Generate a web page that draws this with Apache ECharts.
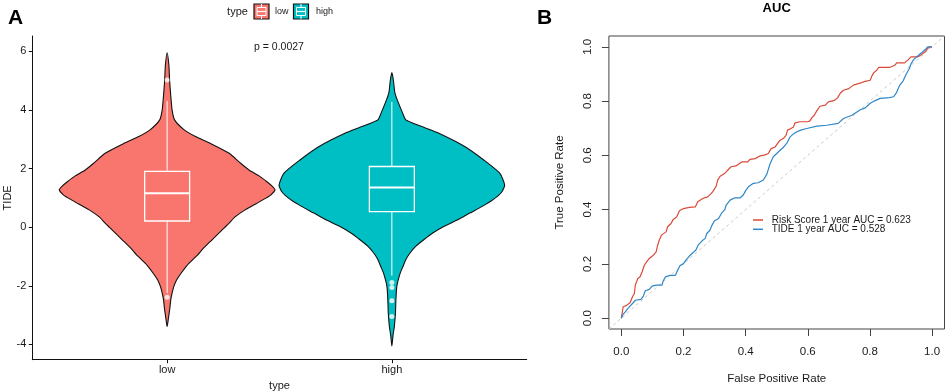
<!DOCTYPE html>
<html><head><meta charset="utf-8">
<script src="https://cdn.jsdelivr.net/npm/echarts@6/dist/echarts.min.js"></script>
<style>html,body{margin:0;padding:0;background:#fff}#c{width:948px;height:391px}</style>
</head><body><div id="c"></div>
<script>
// ---------- Panel A data ----------
const categories = ['low', 'high'];
const violinColors = ['#F8766D', '#00BFC4'];
const yTicksA = [-4, -2, 0, 2, 4, 6];
// violin density profile: TIDE value and half-width (category units)
const lowProfileY = [5.95,5.5,5.0,4.5,4.0,3.66,3.32,3.1,2.86,2.52,2.2,1.95,1.75,1.55,1.4,1.27,1.1,0.99,0.8,0.59,0.35,0.14,-0.1,-0.43,-0.7,-1.0,-1.3,-1.57,-1.8,-2.02,-2.25,-2.48,-2.7,-2.93,-3.15,-3.39];
const lowProfileW = [0,0.008,0.011,0.016,0.022,0.033,0.076,0.124,0.191,0.276,0.324,0.364,0.409,0.444,0.467,0.48,0.462,0.44,0.396,0.347,0.302,0.276,0.244,0.2,0.164,0.129,0.089,0.062,0.042,0.03,0.022,0.016,0.013,0.009,0.005,0];
const highProfileY = [5.27,5.0,4.6,4.34,3.89,3.66,3.43,3.2,2.75,2.29,1.84,1.44,1.2,0.93,0.7,0.48,0.25,0.02,-0.2,-0.43,-0.65,-0.89,-1.11,-1.35,-1.57,-2.02,-2.48,-2.93,-3.39,-3.7,-4.05];
const highProfileW = [0,0.007,0.013,0.024,0.048,0.062,0.133,0.209,0.324,0.409,0.48,0.502,0.489,0.449,0.4,0.347,0.293,0.231,0.182,0.142,0.107,0.08,0.062,0.049,0.037,0.022,0.018,0.016,0.011,0.005,0];
// box statistics: lower whisker, Q1, median, Q3, upper whisker
const lowBox = [-2.25, 0.21, 1.16, 1.90, 4.30];
const highBox = [-1.65, 0.53, 1.35, 2.07, 4.27];
const lowOutliers = [5.02, -2.39];
const highOutliers = [-1.89, -2.06, -2.51, -3.05];
const pValueText = 'p = 0.0027';

// ---------- Panel B data ----------
const rocTicks = [0, 0.2, 0.4, 0.6, 0.8, 1.0];
const rocNames = ['Risk Score 1 year AUC = 0.623', 'TIDE 1 year AUC = 0.528'];
const rocColors = ['#DA4A38', '#2F87C8'];
// [false positive rate, true positive rate]
const riskScoreROC = [[0,0],[0.004,0],[0.006,0.042],[0.017,0.047],[0.028,0.057],[0.036,0.079],[0.042,0.091],[0.045,0.122],[0.053,0.146],[0.060,0.152],[0.067,0.171],[0.074,0.195],[0.082,0.208],[0.090,0.220],[0.103,0.232],[0.112,0.244],[0.117,0.269],[0.122,0.287],[0.129,0.306],[0.144,0.318],[0.149,0.337],[0.160,0.349],[0.167,0.364],[0.178,0.373],[0.187,0.396],[0.200,0.404],[0.219,0.408],[0.238,0.410],[0.246,0.429],[0.262,0.441],[0.278,0.447],[0.289,0.459],[0.296,0.469],[0.305,0.486],[0.310,0.509],[0.318,0.523],[0.332,0.533],[0.342,0.545],[0.353,0.558],[0.369,0.561],[0.380,0.570],[0.388,0.576],[0.407,0.576],[0.414,0.585],[0.431,0.588],[0.444,0.597],[0.460,0.601],[0.473,0.607],[0.482,0.625],[0.495,0.631],[0.503,0.644],[0.511,0.656],[0.521,0.662],[0.530,0.674],[0.535,0.693],[0.546,0.699],[0.554,0.705],[0.559,0.720],[0.575,0.724],[0.600,0.724],[0.607,0.727],[0.614,0.740],[0.621,0.748],[0.629,0.764],[0.639,0.781],[0.657,0.785],[0.666,0.797],[0.686,0.803],[0.696,0.812],[0.705,0.830],[0.715,0.840],[0.732,0.846],[0.747,0.859],[0.771,0.867],[0.785,0.873],[0.801,0.877],[0.806,0.892],[0.812,0.904],[0.822,0.914],[0.828,0.924],[0.863,0.924],[0.880,0.932],[0.886,0.941],[0.911,0.941],[0.922,0.951],[0.932,0.963],[0.954,0.963],[0.965,0.971],[0.979,0.983],[0.986,0.994],[0.994,1.0],[1.0,1.0]];
const tideROC = [[0,0],[0.006,0.015],[0.013,0.023],[0.020,0.034],[0.028,0.044],[0.036,0.054],[0.045,0.066],[0.063,0.069],[0.071,0.081],[0.077,0.101],[0.090,0.106],[0.099,0.118],[0.112,0.122],[0.131,0.122],[0.135,0.138],[0.142,0.152],[0.157,0.158],[0.174,0.158],[0.180,0.174],[0.189,0.194],[0.200,0.201],[0.208,0.214],[0.219,0.229],[0.232,0.243],[0.240,0.251],[0.247,0.269],[0.260,0.285],[0.270,0.294],[0.275,0.312],[0.285,0.324],[0.292,0.343],[0.300,0.359],[0.313,0.367],[0.322,0.386],[0.333,0.400],[0.337,0.416],[0.350,0.435],[0.364,0.443],[0.382,0.443],[0.393,0.455],[0.400,0.470],[0.409,0.484],[0.425,0.497],[0.440,0.499],[0.457,0.509],[0.468,0.530],[0.479,0.570],[0.489,0.595],[0.500,0.607],[0.511,0.619],[0.522,0.630],[0.532,0.644],[0.543,0.668],[0.555,0.680],[0.565,0.687],[0.580,0.694],[0.597,0.699],[0.629,0.708],[0.661,0.711],[0.698,0.718],[0.715,0.736],[0.742,0.748],[0.768,0.767],[0.785,0.775],[0.800,0.791],[0.815,0.801],[0.833,0.810],[0.863,0.813],[0.876,0.816],[0.885,0.830],[0.895,0.857],[0.907,0.875],[0.917,0.900],[0.927,0.920],[0.932,0.937],[0.940,0.952],[0.952,0.965],[0.965,0.977],[0.978,0.990],[0.986,1.0],[1.0,1.0]];
const diagonalX = [-0.04, 1.04];
const diagonalY = [-0.04, 1.04];

// ---------- build ----------
const FONT = '"Liberation Sans", Arial, Helvetica, sans-serif';
const TXT = '#1a1a1a';
const profiles = [[lowProfileY, lowProfileW], [highProfileY, highProfileW]];
const boxes = [lowBox, highBox];
const outlierSets = [lowOutliers, highOutliers];

function renderViolin(params, api) {
  const c = api.value(0);
  const [ys, ws] = profiles[params.dataIndex];
  const pts = [];
  for (let i = 0; i < ys.length; i++) pts.push(api.coord([c + ws[i], ys[i]]));
  for (let i = ys.length - 1; i >= 0; i--) {
    if (ws[i] === 0) continue;
    pts.push(api.coord([c - ws[i], ys[i]]));
  }
  return {
    type: 'polygon',
    shape: { points: pts, smooth: 0.2 },
    style: { fill: violinColors[params.dataIndex], stroke: '#111', lineWidth: 1.1 }
  };
}
function renderBox(params, api) {
  const c = api.value(0);
  const wlo = api.value(1), q1 = api.value(2), med = api.value(3), q3 = api.value(4), whi = api.value(5);
  const hw = 0.1;
  const p = (x, y) => api.coord([x, y]);
  const ln = (a, b, w) => ({ type: 'line', shape: { x1: a[0], y1: a[1], x2: b[0], y2: b[1] }, style: { stroke: '#fff', lineWidth: w } });
  const tl = p(c - hw, q3), br = p(c + hw, q1);
  return { type: 'group', children: [
    ln(p(c, q3), p(c, whi), 1),
    ln(p(c, q1), p(c, wlo), 1),
    { type: 'rect', shape: { x: tl[0], y: tl[1], width: br[0] - tl[0], height: br[1] - tl[1] }, style: { fill: 'none', stroke: '#fff', lineWidth: 1.3 } },
    ln(p(c - hw, med), p(c + hw, med), 2)
  ]};
}

const violinData = categories.map((_, i) => [i + 1, 0]);
const boxData = categories.map((_, i) => [i + 1].concat(boxes[i]));
const outlierData = [];
outlierSets.forEach((arr, i) => arr.forEach(v => outlierData.push([i + 1, v])));

function txt(text, x, y, font, align, valign, fill) {
  return { type: 'text', silent: true, style: {
    text, x, y, font, fill: fill || TXT,
    textAlign: align, align: align, textVerticalAlign: valign, verticalAlign: valign } };
}
function keyGlyph(x, color) {
  const y = 4, s = 15, cx = x + s / 2;
  return { type: 'group', silent: true, children: [
    { type: 'rect', shape: { x, y, width: s, height: s }, style: { fill: color, stroke: '#111', lineWidth: 1.2 } },
    { type: 'rect', shape: { x: x + 3, y: y + 3.5, width: s - 6, height: 8 }, style: { fill: 'none', stroke: '#fff', lineWidth: 1 } },
    { type: 'line', shape: { x1: x + 3, y1: y + 7.5, x2: x + s - 3, y2: y + 7.5 }, style: { stroke: '#fff', lineWidth: 1.2 } },
    { type: 'line', shape: { x1: cx, y1: y, x2: cx, y2: y + 3.5 }, style: { stroke: '#fff', lineWidth: 1 } },
    { type: 'line', shape: { x1: cx, y1: y + 11.5, x2: cx, y2: y + s }, style: { stroke: '#fff', lineWidth: 1 } }
  ]};
}

const chart = echarts.init(document.getElementById('c'), null, { renderer: 'canvas' });
chart.setOption({
  animation: false,
  backgroundColor: '#fff',
  textStyle: { fontFamily: FONT },
  grid: [
    { left: 32.3, top: 36, width: 494.4, height: 323.7, containLabel: false, outerBoundsMode: 'none' },
    { left: 608.9, top: 36, width: 335.6, height: 293, containLabel: false, outerBoundsMode: 'none',
      show: true, borderColor: '#444', borderWidth: 1, backgroundColor: 'transparent' }
  ],
  xAxis: [
    { type: 'value', gridIndex: 0, min: 0.4, max: 2.6,
      axisLine: { onZero: false, lineStyle: { color: '#111', width: 1 } },
      axisTick: { customValues: [1, 2], length: 3.5, lineStyle: { color: '#111' } },
      axisLabel: { customValues: [1, 2], formatter: v => categories[Math.round(v) - 1], color: TXT, fontSize: 11, margin: 5, fontFamily: FONT },
      splitLine: { show: false }, nameMoveOverlap: false,
      name: 'type', nameLocation: 'middle', nameGap: 21, nameTextStyle: { color: TXT, fontSize: 11, fontFamily: FONT } },
    { type: 'value', gridIndex: 1, min: -0.04, max: 1.04,
      axisLine: { show: false, onZero: false },
      axisTick: { customValues: rocTicks, length: 7, lineStyle: { color: '#444' } },
      axisLabel: { customValues: rocTicks, formatter: v => v.toFixed(1), color: TXT, fontSize: 11.5, margin: 17, fontFamily: FONT },
      splitLine: { show: false }, nameMoveOverlap: false,
      name: 'False Positive Rate', nameLocation: 'middle', nameGap: 44, nameTextStyle: { color: TXT, fontSize: 11.5, fontFamily: FONT } }
  ],
  yAxis: [
    { type: 'value', gridIndex: 0, min: -4.52, max: 6.52,
      axisLine: { show: true, onZero: false, lineStyle: { color: '#111', width: 1 } },
      axisTick: { show: true, customValues: yTicksA, length: 3.5, lineStyle: { color: '#111' } },
      axisLabel: { customValues: yTicksA, color: TXT, fontSize: 11, margin: 6, fontFamily: FONT },
      splitLine: { show: false }, nameMoveOverlap: false,
      name: 'TIDE', nameLocation: 'middle', nameGap: 19, nameRotate: 90, nameTextStyle: { color: TXT, fontSize: 11, fontFamily: FONT } },
    { type: 'value', gridIndex: 1, min: -0.04, max: 1.04,
      axisLine: { show: false, onZero: false },
      axisTick: { show: true, customValues: rocTicks, length: 7, lineStyle: { color: '#444' } },
      axisLabel: { customValues: rocTicks, formatter: v => v.toFixed(1), rotate: 90, color: TXT, fontSize: 11.5, margin: 15, fontFamily: FONT },
      splitLine: { show: false }, nameMoveOverlap: false,
      name: 'True Positive Rate', nameLocation: 'middle', nameGap: 43, nameRotate: 90, nameTextStyle: { color: TXT, fontSize: 11.5, fontFamily: FONT } }
  ],
  series: [
    { type: 'custom', xAxisIndex: 0, yAxisIndex: 0, renderItem: renderViolin, data: violinData, silent: true, z: 2 },
    { type: 'custom', xAxisIndex: 0, yAxisIndex: 0, renderItem: renderBox, data: boxData, silent: true, z: 3 },
    { type: 'scatter', xAxisIndex: 0, yAxisIndex: 0, data: outlierData, symbolSize: 5, itemStyle: { color: '#fff' }, silent: true, z: 4 },
    { type: 'line', xAxisIndex: 1, yAxisIndex: 1, data: diagonalX.map((x, i) => [x, diagonalY[i]]), showSymbol: false, silent: true,
      lineStyle: { color: '#C9C9C9', width: 1, type: [3, 3] }, z: 2 },
    { type: 'line', name: rocNames[0], xAxisIndex: 1, yAxisIndex: 1, data: riskScoreROC, showSymbol: false, silent: true,
      lineStyle: { color: rocColors[0], width: 1.2 }, z: 3 },
    { type: 'line', name: rocNames[1], xAxisIndex: 1, yAxisIndex: 1, data: tideROC, showSymbol: false, silent: true,
      lineStyle: { color: rocColors[1], width: 1.2 }, z: 4 }
  ],
  graphic: [
    txt('A', 15.5, 18, 'bold 21px ' + FONT, 'center', 'middle', '#000'),
    txt('B', 544.5, 18, 'bold 21px ' + FONT, 'center', 'middle', '#000'),
    txt('AUC', 776.7, 8.5, 'bold 13px ' + FONT, 'center', 'middle', '#000'),
    txt('type', 237.5, 12, '11px ' + FONT, 'center', 'middle'),
    keyGlyph(254, violinColors[0]),
    txt(categories[0], 275, 12, '9px ' + FONT, 'left', 'middle'),
    keyGlyph(293.5, violinColors[1]),
    txt(categories[1], 316, 12, '9px ' + FONT, 'left', 'middle'),
    txt(pValueText, 279, 47, '10.5px ' + FONT, 'center', 'middle'),
    { type: 'line', silent: true, shape: { x1: 753, y1: 220, x2: 763, y2: 220 }, style: { stroke: rocColors[0], lineWidth: 1.5 } },
    { type: 'line', silent: true, shape: { x1: 753, y1: 229.3, x2: 763, y2: 229.3 }, style: { stroke: rocColors[1], lineWidth: 1.5 } },
    txt(rocNames[0], 771.7, 220, '10px ' + FONT, 'left', 'middle'),
    txt(rocNames[1], 771.7, 229.3, '10px ' + FONT, 'left', 'middle')
  ]
});
</script></body></html>
